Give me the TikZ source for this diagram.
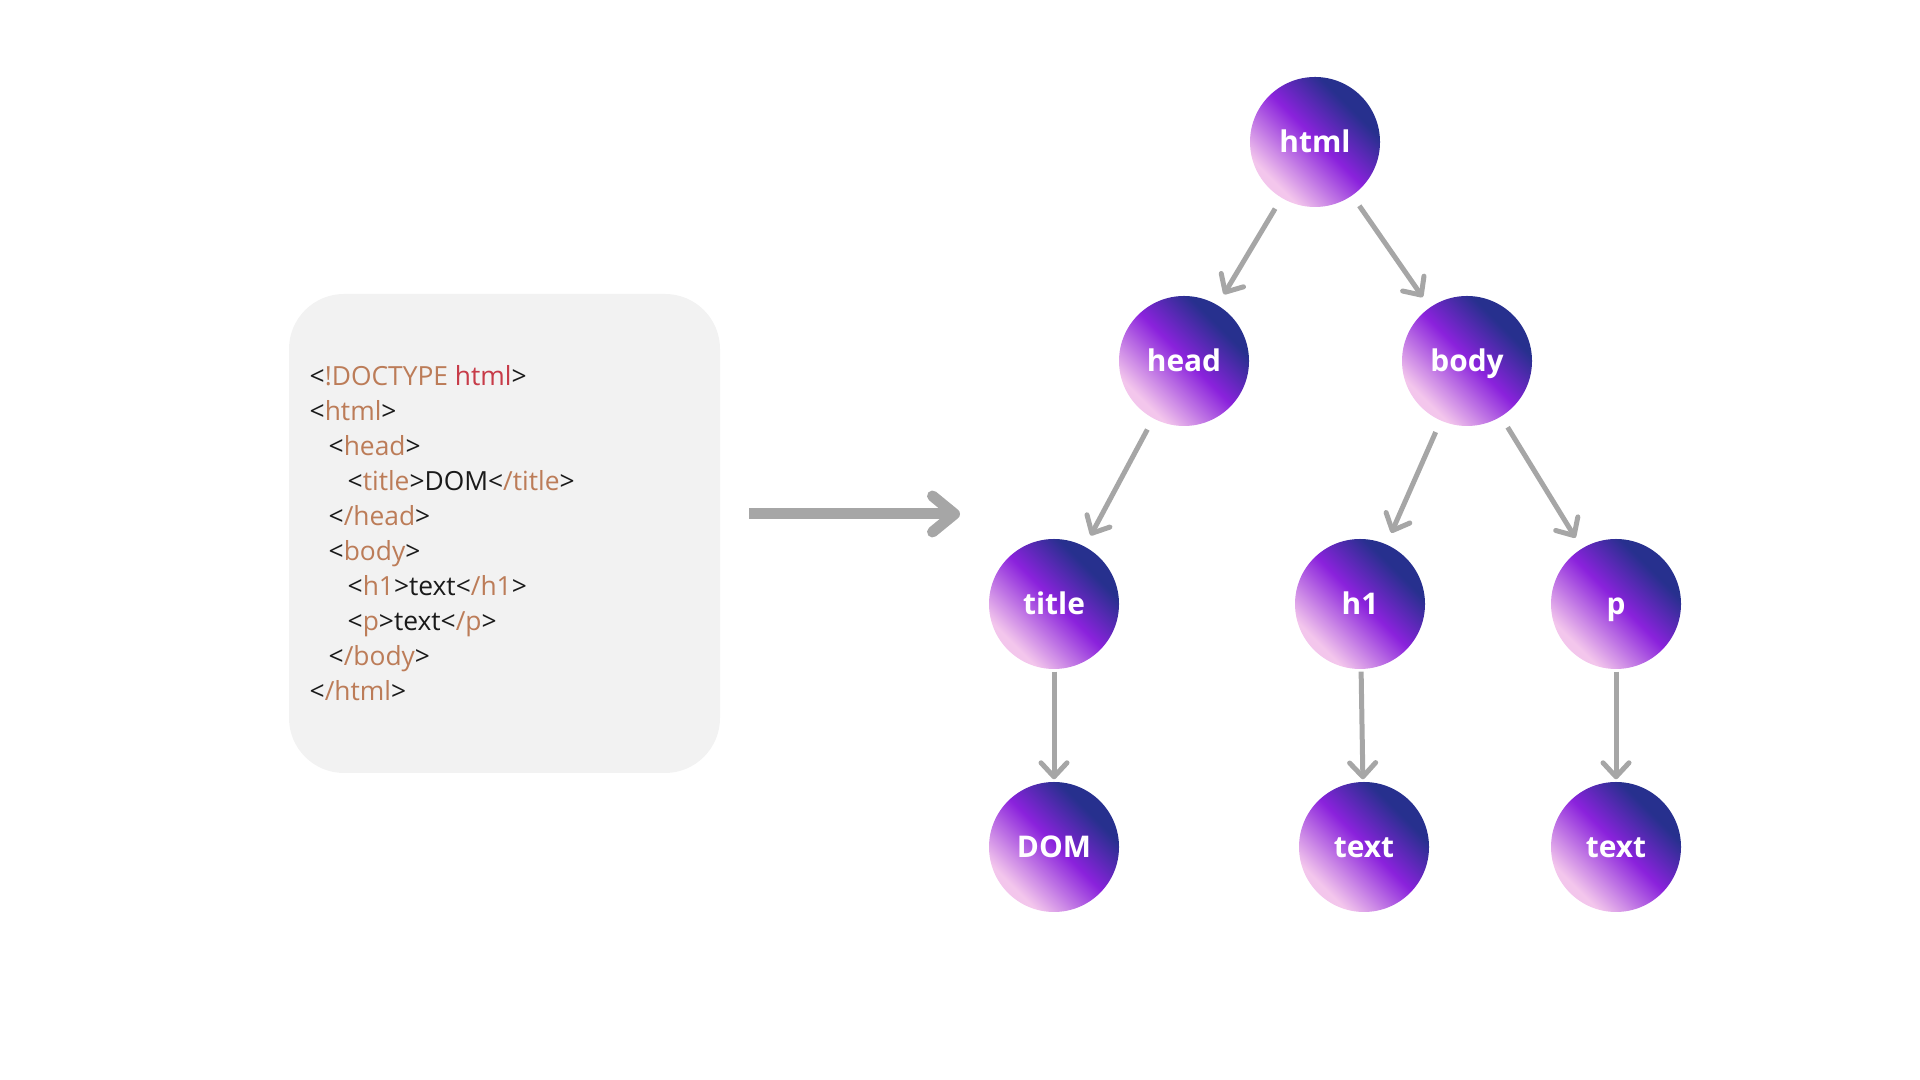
\documentclass[tikz,border=0pt]{standalone}
\usepackage{fontspec}
\setmainfont{Open Sans}
\usepackage{tikz}
\usetikzlibrary{
  positioning,
  arrows.meta
}
\usepackage{xcolor}
\definecolor{codebg}{HTML}{F2F2F2}
\definecolor{tagbrown}{HTML}{BC7C58}
\definecolor{dtred}{HTML}{C73B48}
\definecolor{codeink}{HTML}{1A1A1A}
\definecolor{linkgray}{HTML}{A6A6A6}
\definecolor{nodepink}{HTML}{F3C6EC}
\definecolor{nodeviolet}{HTML}{8A22DC}
\definecolor{nodeblue}{HTML}{27308E}
\pgfdeclarehorizontalshading{domshade}{100bp}{color(0bp)=(nodepink); color(28bp)=(nodepink); color(51bp)=(nodeviolet); color(69bp)=(nodeblue); color(100bp)=(nodeblue)}
\newcommand{\tg}[1]{\textcolor{tagbrown}{#1}}

\begin{document}
\begin{tikzpicture}[
    domnode/.style={circle,minimum size=1.3cm,inner sep=0pt,shading=domshade,shading angle=45,
      text=white,text height=1.25ex,text depth=0.1ex,font={\fontsize{8.5}{10}\selectfont\bfseries}},
    link/.style={draw=linkgray,line width=0.5mm,-{Straight Barb[length=1.4mm,width=2.6mm,round]},
      shorten <=0.12cm,shorten >=0.12cm},
    straight/.style={link,shorten <=0.02cm,shorten >=0.02cm},
    codeline/.style={anchor=base west,inner sep=0pt,text=codeink,font={\fontsize{7.5}{10}\selectfont}}
  ]
                \useasboundingbox (0,0) rectangle (19.2,10.8);
                \node[fill=codebg,rounded corners=0.55cm,minimum width=4.31cm,minimum height=4.79cm] (code) at (5.045,5.465) {};
                \foreach \ind/\txt [count=\i] in {
                    0/{<\tg{!DOCTYPE} \textcolor{dtred}{html}>},
                    0/{<\tg{html}>},
                    0.19/{<\tg{head}>},
                    0.38/{<\tg{title}>DOM<\tg{/title}>},
                    0.19/{<\tg{/head}>},
                    0.19/{<\tg{body}>},
                    0.38/{<\tg{h1}>text<\tg{/h1}>},
                    0.38/{<\tg{p}>text<\tg{/p}>},
                    0.19/{<\tg{/body}>},
                    0/{<\tg{/html}>}}
                  \node[codeline] (line\i) at (3.09+\ind,6.945-0.35*\i+0.35) {\txt};
                \coordinate (from) at (7.49,5.66);
                \coordinate (to) at (9.60,5.66);
                \draw[draw=linkgray,line width=1.1mm,-{Straight Barb[length=2.2mm,width=3.6mm,round]}] (from) -- (to);
                \node[domnode] (html) at (13.15,9.38) {html};
                \node[domnode] (head) at (11.84,7.19) {head};
                \node[domnode] (body) at (14.67,7.19) {body};
                \node[domnode] (title) at (10.54,4.76) {title};
                \node[domnode] (h1) at (13.60,4.76) {h1};
                \node[domnode] (p) at (16.16,4.76) {p};
                \node[domnode] (dom) at (10.54,2.33) {DOM};
                \node[domnode] (texta) at (13.64,2.33) {text};
                \node[domnode] (textb) at (16.16,2.33) {text};
                \draw[link] (html) -- (head);
                \draw[link] (html) -- (body);
                \draw[link] (head) -- (title);
                \draw[link] (body) -- (h1);
                \draw[link] (body) -- (p);
                \draw[straight] (title) -- (dom);
                \draw[straight] (h1) -- (texta);
                \draw[straight] (p) -- (textb);
            \end{tikzpicture}
\end{document}
